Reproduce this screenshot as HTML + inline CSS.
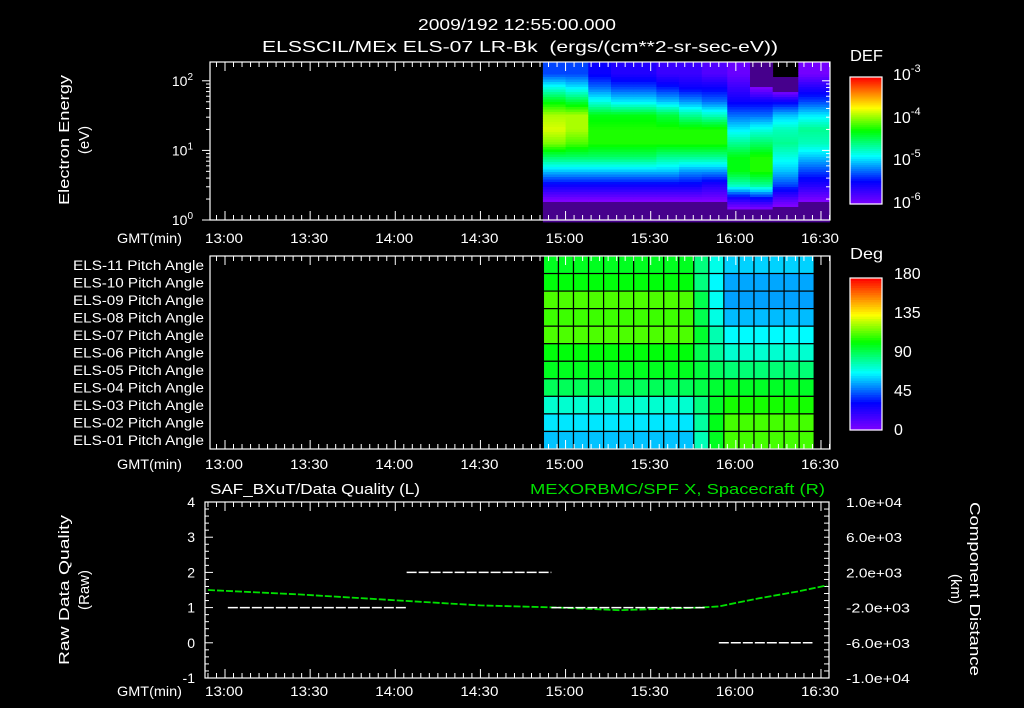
<!DOCTYPE html>
<html><head><meta charset="utf-8"><style>
html,body{margin:0;padding:0;background:#000;}
svg{display:block;}
text{font-family:"Liberation Sans",sans-serif;fill:#fff;}
</style></head><body>
<svg id="chart" width="1024" height="708" viewBox="0 0 1024 708" xmlns="http://www.w3.org/2000/svg">
<rect x="0" y="0" width="1024" height="708" fill="#000"/>
<text x="517" y="30" font-size="16" text-anchor="middle" textLength="198" lengthAdjust="spacingAndGlyphs">2009/192 12:55:00.000</text>
<text x="520" y="52" font-size="16" text-anchor="middle" textLength="516" lengthAdjust="spacingAndGlyphs" xml:space="preserve">ELSSCIL/MEx ELS-07 LR-Bk  (ergs/(cm**2-sr-sec-eV))</text>
<g id="g1"></g>
<g id="g2"></g>
<g id="g3"></g>
</svg>
<script>
// ---------- data ----------
const timeTickLabels = ["13:00","13:30","14:00","14:30","15:00","15:30","16:00","16:30"];
const timeTickMinutes = [780,810,840,870,900,930,960,990];
// spectrogram
const specColStarts = [892,900,908,916,924,932,940,948,957,965,973,982];
const specColEnd = 993;
const specLogE = [2.1,1.9,1.7,1.5,1.3,1.1,0.9,0.7,0.5,0.3,0.1];
const specLogDEF = [
 [-5.3,-4.8,-4.3,-3.9,-3.8,-4.0,-4.5,-5.0,-5.5,-5.95,-6.3],
 [-5.3,-4.9,-4.4,-3.9,-3.9,-4.1,-4.5,-5.0,-5.5,-5.95,-6.3],
 [-5.5,-5.2,-4.8,-4.3,-4.2,-4.2,-4.5,-5.0,-5.5,-5.95,-6.3],
 [-5.6,-5.3,-4.9,-4.3,-4.2,-4.2,-4.5,-5.0,-5.5,-5.95,-6.3],
 [-5.6,-5.3,-4.9,-4.3,-4.2,-4.2,-4.5,-5.0,-5.5,-5.95,-6.3],
 [-5.7,-5.4,-5.0,-4.4,-4.2,-4.2,-4.6,-5.0,-5.5,-5.95,-6.3],
 [-5.7,-5.5,-5.1,-4.6,-4.2,-4.2,-4.6,-5.1,-5.5,-5.95,-6.3],
 [-5.8,-5.5,-5.2,-4.7,-4.2,-4.2,-4.6,-5.1,-5.6,-5.95,-6.3],
 [-5.9,-5.7,-5.5,-5.2,-4.9,-4.6,-4.3,-4.3,-4.7,-5.6,-6.2],
 [-6.3,-6.0,-5.5,-5.2,-4.8,-4.5,-4.2,-4.2,-4.6,-5.5,-6.2],
 [-6.4,-6.2,-5.5,-5.0,-4.7,-4.6,-4.8,-5.0,-5.3,-5.8,-6.2],
 [-5.95,-5.6,-5.3,-4.9,-4.6,-4.7,-5.0,-5.3,-5.6,-5.95,-6.3]
];
// pitch angles
const paLabels = ["ELS-11","ELS-10","ELS-09","ELS-08","ELS-07","ELS-06","ELS-05","ELS-04","ELS-03","ELS-02","ELS-01"];
const paEarly = [100,103,114,112,114,103,100,92,75,65,60];
const paLate = [62,56,55,59,68,75,88,99,107,113,113];
const paColStart = 892.2, paColWidth = 5.3;
const paColMix = [0,0,0,0,0,0,0,0,0,0,0.35,0.75,1,1,1,1,1,1];
// data quality
const dqSegments = [[781,844,1],[844,895,2],[895,949,1],[954,987,0]];
const scTimes = [774,806,842,870,898,919,947,954,968,982,992];
const scValues = [0,-500,-1200,-1750,-2000,-2300,-2000,-1860,-950,-160,520];
const leftTicks = [4,3,2,1,0,-1];
const rightTicks = [10000,6000,2000,-2000,-6000,-10000];
const rightTickLabels = ["1.0e+04","6.0e+03","2.0e+03","-2.0e+03","-6.0e+03","-1.0e+04"];

// ---------- helpers ----------
const NS="http://www.w3.org/2000/svg";
function mk(parent,tag,attrs,txt){const e=document.createElementNS(NS,tag);for(const k in attrs)e.setAttribute(k,attrs[k]);if(txt!==undefined)e.textContent=txt;parent.appendChild(e);return e;}
const xT = m => 225 + (m-780)*2.838;
const stops=[[0,[128,0,255]],[0.18,[0,0,255]],[0.38,[0,255,255]],[0.58,[0,255,0]],[0.76,[255,255,0]],[0.88,[255,128,0]],[1,[255,0,0]]];
function cmap(t){t=Math.max(0,Math.min(1,t));for(let i=1;i<stops.length;i++){if(t<=stops[i][0]){const a=stops[i-1],b=stops[i];const f=(t-a[0])/(b[0]-a[0]);const c=a[1].map((v,j)=>Math.round(v+(b[1][j]-v)*f));return `rgb(${c[0]},${c[1]},${c[2]})`;}}return "rgb(255,0,0)";}
function timeAxis(g,y0,y1,x0,x1,labelY){
  for(let m=774;m<=993;m+=3){const x=xT(m);if(x<x0||x>x1)continue;const L=(m%30===0)?9:5;
    mk(g,'line',{x1:x,y1:y1,x2:x,y2:y1-L,stroke:'#fff','stroke-width':1});
    mk(g,'line',{x1:x,y1:y0,x2:x,y2:y0+L,stroke:'#fff','stroke-width':1});}
  const gl=mk(g,'text',{x:117,y:labelY,'font-size':14,textLength:65,lengthAdjust:'spacingAndGlyphs'},'GMT(min)');
  
  
  timeTickMinutes.forEach((m,i)=>{const t=mk(g,'text',{x:xT(m)-1,y:labelY,'font-size':14,'text-anchor':'middle',textLength:38,lengthAdjust:'spacingAndGlyphs'},timeTickLabels[i]);
    
    });
}
function colorbar(g,x,y,w,h){
  const n=64;for(let i=0;i<n;i++){const r=mk(g,'rect',{x:x,y:y+h-(i+1)*h/n,width:w,height:h/n+0.6,fill:cmap((i+0.5)/n)});
    
    }
  mk(g,'rect',{x:x,y:y,width:w,height:h,fill:'none',stroke:'#fff','stroke-width':1.2});
}

// ---------- panel 1 ----------
(function(){
  const g=document.getElementById('g1');
  const X0=210,X1=830,Y0=62,Y1=220,top=2.27;
  const yE=l=>Y1-(l/top)*(Y1-Y0);
  const nC=specColStarts.length;
  function val(ci,le){
    let j=0;while(j<specLogE.length-2&&le<specLogE[j+1])j++;
    let fe=(specLogE[j]-le)/(specLogE[j]-specLogE[j+1]);fe=Math.max(0,Math.min(1,fe));
    return specLogDEF[ci][j]*(1-fe)+specLogDEF[ci][j+1]*fe;}
  const dy=2.5;
  specColStarts.forEach((t0,ci)=>{const t1=ci+1<nC?specColStarts[ci+1]:specColEnd;
    const xa=xT(t0),xb=Math.min(xT(t1),X1);
    for(let y=Y0;y<Y1-0.1;y+=dy){
      const le=(Y1-(y+dy/2))/(Y1-Y0)*top;
      const v=val(ci,le);if(v<=-6.35)continue;
      const fill=v<-6.0?'rgb(70,0,140)':cmap((v+6)/3);
      const r=mk(g,'rect',{x:xa.toFixed(1),y:y.toFixed(1),width:(xb-xa+0.4).toFixed(1),height:dy+0.4,fill:fill});
      
      
    }});
  mk(g,'rect',{x:X0,y:Y0,width:X1-X0,height:Y1-Y0,fill:'none',stroke:'#fff','stroke-width':1.2});
  for(let d=0;d<3;d++)for(let k=1;k<10;k++){const l=d+Math.log10(k);if(l>top)continue;const y=yE(l);const L=k===1?8:4;
    mk(g,'line',{x1:X0,y1:y,x2:X0-L,y2:y,stroke:'#fff'});mk(g,'line',{x1:X1,y1:y,x2:X1-L,y2:y,stroke:'#fff'});}
  [0,1,2].forEach(d=>{const t=mk(g,'text',{x:193,y:yE(d)+5,'font-size':14,'text-anchor':'end'});
    
    
    t.innerHTML='10<tspan dy="-6" font-size="10">'+d+'</tspan>';});
  timeAxis(g,Y0,Y1,X0,X1,243);
  mk(g,'text',{x:0,y:0,'font-size':15,'text-anchor':'middle',textLength:130,lengthAdjust:'spacingAndGlyphs',transform:'translate(69,140) rotate(-90)',},'Electron Energy');
  mk(g,'text',{x:0,y:0,'font-size':15,'text-anchor':'middle',transform:'translate(89,140) rotate(-90)',},'(eV)');
  colorbar(g,850,77,32,127);
  mk(g,'text',{x:850,y:61,'font-size':16,textLength:33,lengthAdjust:'spacingAndGlyphs',},'DEF');
  [[-3,80],[-4,123],[-5,165],[-6,208]].forEach(p=>{const t=mk(g,'text',{x:893,y:p[1],'font-size':16});
    
    
    t.innerHTML='10<tspan dy="-8" font-size="11">'+p[0]+'</tspan>';});
})();

// ---------- panel 2 ----------
(function(){
  const g=document.getElementById('g2');
  const X0=210,X1=830,Y0=256,Y1=449,rh=(Y1-Y0)/11;
  paColMix.forEach((f,i)=>{const t0=paColStart+i*paColWidth;
    paLabels.forEach((lab,j)=>{const v=paEarly[j]*(1-f)+paLate[j]*f;
      const r=mk(g,'rect',{x:xT(t0),y:Y0+j*rh,width:xT(t0+paColWidth)-xT(t0),height:rh,fill:cmap(v/180),stroke:'#000','stroke-width':1.2});
      
      });});
  mk(g,'rect',{x:X0,y:Y0,width:X1-X0,height:Y1-Y0,fill:'none',stroke:'#fff','stroke-width':1.2});
  paLabels.forEach((lab,j)=>{const t=mk(g,'text',{x:73,y:Y0+j*rh+rh/2+5,'font-size':13.5,textLength:131,lengthAdjust:'spacingAndGlyphs'},lab+' Pitch Angle');
    
    });
  timeAxis(g,Y0,Y1,X0,X1,469);
  colorbar(g,850,278,32,152);
  mk(g,'text',{x:850,y:259,'font-size':16,textLength:33,lengthAdjust:'spacingAndGlyphs',},'Deg');
  [[180,279],[135,318],[90,357],[45,396],[0,435]].forEach(p=>{const t=mk(g,'text',{x:894,y:p[1],'font-size':16},String(p[0]));
    
    });
})();

// ---------- panel 3 ----------
(function(){
  const g=document.getElementById('g3');
  const X0=205,X1=829,Y0=502,Y1=678;
  const yL=v=>Y1-(v+1)/5*(Y1-Y0);
  const yR=v=>(Y0+Y1)/2-v/10000*(Y1-Y0)/2;
  mk(g,'rect',{x:X0,y:Y0,width:X1-X0,height:Y1-Y0,fill:'none',stroke:'#fff','stroke-width':1.2});
  for(let v=-1;v<=4.001;v+=0.2){const y=yL(v);const L=Math.abs(v-Math.round(v))<0.01?8:4;mk(g,'line',{x1:X0,y1:y,x2:X0+L,y2:y,stroke:'#fff'});}
  for(let v=-10000;v<=10000;v+=800){const y=yR(v);mk(g,'line',{x1:X1,y1:y,x2:X1-5,y2:y,stroke:'#fff'});}
  leftTicks.forEach(v=>{const t=mk(g,'text',{x:195,y:yL(v)+5,'font-size':14,'text-anchor':'end'},String(v));
    
    });
  rightTicks.forEach((v,i)=>{const t=mk(g,'text',{x:846,y:yR(v)+5,'font-size':13,textLength:rightTickLabels[i].length*8,lengthAdjust:'spacingAndGlyphs'},rightTickLabels[i]);
    
    });
  timeAxis(g,Y0,Y1,X0,X1,696);
  const pts=scTimes.map((t,i)=>xT(t).toFixed(1)+','+yR(scValues[i]).toFixed(1)).join(' ');
  mk(g,'polyline',{points:pts,fill:'none',stroke:'#00e000','stroke-width':1.8,'stroke-dasharray':'7 2',});
  dqSegments.forEach(s=>{const l=mk(g,'line',{x1:xT(s[0]),y1:yL(s[2]),x2:xT(s[1]),y2:yL(s[2]),stroke:'#fff','stroke-width':1.5,'stroke-dasharray':'10 2'});
    
    });
  mk(g,'text',{x:210,y:494,'font-size':15,textLength:210,lengthAdjust:'spacingAndGlyphs',},'SAF_BXuT/Data Quality (L)');
  mk(g,'text',{x:530,y:494,'font-size':15,textLength:295,lengthAdjust:'spacingAndGlyphs',style:'fill:#00e000',},'MEXORBMC/SPF X, Spacecraft (R)');
  mk(g,'text',{x:0,y:0,'font-size':15,'text-anchor':'middle',textLength:150,lengthAdjust:'spacingAndGlyphs',transform:'translate(69,590) rotate(-90)',},'Raw Data Quality');
  mk(g,'text',{x:0,y:0,'font-size':15,'text-anchor':'middle',transform:'translate(89,590) rotate(-90)',},'(Raw)');
  mk(g,'text',{x:0,y:0,'font-size':15,'text-anchor':'middle',textLength:174,lengthAdjust:'spacingAndGlyphs',transform:'translate(970,589) rotate(90)',},'Component Distance');
  mk(g,'text',{x:0,y:0,'font-size':15,'text-anchor':'middle',transform:'translate(951,589) rotate(90)',},'(km)');
})();
</script>
</body></html>
